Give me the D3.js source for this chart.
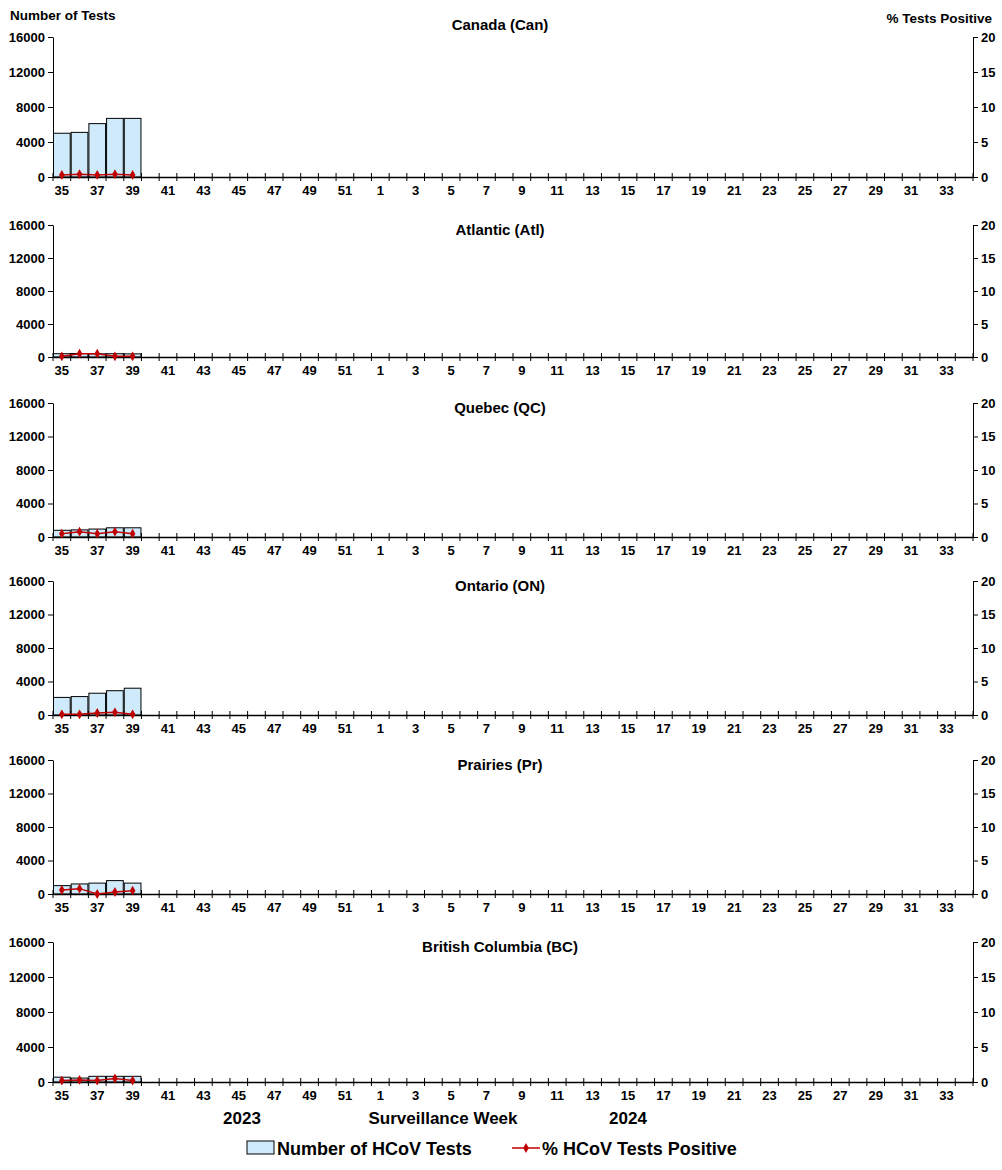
<!DOCTYPE html>
<html lang="en">
<head>
<meta charset="UTF-8" />
<script src="https://cdn.jsdelivr.net/npm/d3@7"></script>
<style>
  body { margin: 0; background: #fff; }
  text { font-family: "Liberation Sans", Arial, sans-serif; font-weight: bold; }
</style>
</head>
<body>
<div id="chart"></div>
<script>
// surveillance weeks 35..52 (2023) then 1..34 (2024)
const weeks = d3.range(35, 53).concat(d3.range(1, 35));
const dataWeeks = [35, 36, 37, 38, 39];
const regions = ["Canada (Can)", "Atlantic (Atl)", "Quebec (QC)", "Ontario (ON)", "Prairies (Pr)", "British Columbia (BC)"];
const tests = [
  [5000, 5100, 6100, 6700, 6700],
  [400, 420, 380, 400, 380],
  [800, 850, 950, 1100, 1100],
  [2100, 2200, 2600, 2900, 3200],
  [1000, 1200, 1300, 1600, 1300],
  [550, 450, 650, 650, 650]
];
const pctPositive = [
  [0.3, 0.4, 0.3, 0.4, 0.3],
  [0.1, 0.5, 0.5, 0.1, 0.1],
  [0.5, 0.8, 0.5, 0.8, 0.5],
  [0.1, 0.1, 0.3, 0.4, 0.1],
  [0.6, 0.8, 0.0, 0.3, 0.5],
  [0.2, 0.3, 0.2, 0.5, 0.2]
];
const leftTicks = [0, 4000, 8000, 12000, 16000];
const rightTicks = [0, 5, 10, 15, 20];

const W = 1002, H = 1170;
const left = 53, right = 973;
const tops = [37, 225, 403, 581, 760, 942];
const bottoms = [177, 357, 537, 715, 894, 1082];

const svg = d3.select("#chart").append("svg").attr("width", W).attr("height", H);

const x = d3.scaleBand().domain(weeks).range([left, right]).padding(0);

regions.forEach((name, r) => {
  const y = d3.scaleLinear().domain([0, 16000]).range([bottoms[r], tops[r]]);
  const y2 = d3.scaleLinear().domain([0, 20]).range([bottoms[r], tops[r]]);
  const g = svg.append("g");

  // bars
  g.selectAll("rect").data(dataWeeks).enter().append("rect")
    .attr("x", d => x(d) + 0.5)
    .attr("width", x.bandwidth() - 1)
    .attr("y", (d, i) => y(tests[r][i]))
    .attr("height", (d, i) => y(0) - y(tests[r][i]))
    .attr("fill", "#cfeafb").attr("stroke", "#000").attr("stroke-width", 1);

  // axes
  const ax = g.append("g").attr("transform", `translate(0,${bottoms[r]})`)
    .call(d3.axisBottom(x).tickSize(0).tickFormat(d => (d % 2 === 1 ? d : "")));
  ax.select(".domain").attr("stroke-width", 1.3);
  ax.selectAll("text").attr("font-size", 13).attr("dy", "1.15em").attr("fill", "#000");
  // tick marks between bands
  g.selectAll("line.tk").data(weeks.concat(["end"])).enter().append("line")
    .attr("x1", (d, i) => left + i * x.bandwidth()).attr("x2", (d, i) => left + i * x.bandwidth())
    .attr("y1", bottoms[r] - 4).attr("y2", bottoms[r] + 4).attr("stroke", "#000");

  const ay = g.append("g").attr("transform", `translate(${left},0)`)
    .call(d3.axisLeft(y).tickValues(leftTicks).tickFormat(d3.format("d")).tickSize(5).tickSizeOuter(0));
  ay.selectAll("text").attr("font-size", 13).attr("fill", "#000");
  const ay2 = g.append("g").attr("transform", `translate(${right},0)`)
    .call(d3.axisRight(y2).tickValues(rightTicks).tickSize(5).tickSizeOuter(0));
  ay2.selectAll("text").attr("font-size", 13).attr("fill", "#000");

  // % positive line
  const line = d3.line().x((d, i) => x(dataWeeks[i]) + x.bandwidth() / 2).y(d => y2(d));
  g.append("path").datum(pctPositive[r]).attr("d", line)
    .attr("fill", "none").attr("stroke", "#c00000").attr("stroke-width", 1.5);
  g.selectAll("path.pt").data(pctPositive[r]).enter().append("path")
    .attr("d", d3.symbol().type(d3.symbolDiamond).size(28))
    .attr("transform", (d, i) => `translate(${x(dataWeeks[i]) + x.bandwidth() / 2},${y2(d)})`)
    .attr("fill", "#c00000");

  g.append("text").attr("x", 500).attr("y", r === 0 ? 30 : tops[r] + 10)
    .attr("text-anchor", "middle").attr("font-size", 15).text(name);
});

svg.append("text").attr("x", 10).attr("y", 20).attr("font-size", 13.5).text("Number of Tests");
svg.append("text").attr("x", 992).attr("y", 23).attr("font-size", 13.5).attr("text-anchor", "end").text("%  Tests Positive");

svg.append("text").attr("x", 242).attr("y", 1124).attr("font-size", 17).attr("text-anchor", "middle").text("2023");
svg.append("text").attr("x", 443).attr("y", 1124).attr("font-size", 17).attr("text-anchor", "middle").text("Surveillance Week");
svg.append("text").attr("x", 628).attr("y", 1124).attr("font-size", 17).attr("text-anchor", "middle").text("2024");

// legend
svg.append("rect").attr("x", 247).attr("y", 1141).attr("width", 27).attr("height", 13)
  .attr("fill", "#cfeafb").attr("stroke", "#000");
svg.append("text").attr("x", 277).attr("y", 1155).attr("font-size", 18).text("Number of HCoV Tests");
svg.append("line").attr("x1", 512).attr("x2", 540).attr("y1", 1148).attr("y2", 1148)
  .attr("stroke", "#c00000").attr("stroke-width", 1.5);
svg.append("path").attr("d", d3.symbol().type(d3.symbolDiamond).size(28)())
  .attr("transform", "translate(526,1148)").attr("fill", "#c00000");
svg.append("text").attr("x", 542).attr("y", 1155).attr("font-size", 18).text("% HCoV Tests Positive");
</script>
</body>
</html>
